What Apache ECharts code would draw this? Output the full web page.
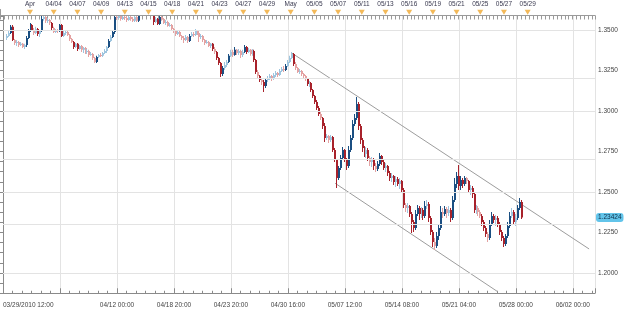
<!DOCTYPE html>
<html><head><meta charset="utf-8">
<script src="https://cdn.jsdelivr.net/npm/echarts@6/dist/echarts.min.js"></script>
<style>html,body{margin:0;padding:0;background:#fff}#c{width:625px;height:311px}</style>
</head><body><div id="c"></div>
<script>
// 4-hour candles, 03/29/2010 -> 05/28/2010 (open of each candle = previous close)
const firstOpen = 1.3451;
const closes = [
1.3463,1.3481,1.3519,1.3438,1.3420,1.3426,1.3407,1.3414,1.3395,1.3407,
1.3451,1.3494,1.3531,1.3500,1.3481,1.3506,1.3475,1.3494,1.3568,1.3580,
1.3556,1.3562,1.3543,1.3512,1.3488,1.3500,1.3494,1.3531,1.3463,1.3481,
1.3488,1.3469,1.3444,1.3426,1.3395,1.3414,1.3383,1.3401,1.3377,1.3389,
1.3364,1.3370,1.3346,1.3352,1.3327,1.3302,1.3333,1.3346,1.3340,1.3358,
1.3370,1.3395,1.3432,1.3457,1.3488,1.3580,1.3574,1.3586,1.3568,1.3580,
1.3574,1.3562,1.3580,1.3568,1.3556,1.3580,1.3556,1.3611,1.3623,1.3636,
1.3630,1.3623,1.3636,1.3617,1.3611,1.3549,1.3568,1.3537,1.3580,1.3568,
1.3543,1.3549,1.3525,1.3531,1.3506,1.3494,1.3475,1.3488,1.3463,1.3451,
1.3438,1.3457,1.3432,1.3463,1.3475,1.3469,1.3494,1.3481,1.3457,1.3463,
1.3438,1.3420,1.3426,1.3401,1.3414,1.3383,1.3364,1.3327,1.3296,1.3228,
1.3265,1.3284,1.3302,1.3340,1.3364,1.3346,1.3377,1.3358,1.3370,1.3346,
1.3364,1.3395,1.3364,1.3377,1.3352,1.3370,1.3315,1.3241,1.3216,1.3191,
1.3179,1.3154,1.3191,1.3204,1.3216,1.3198,1.3222,1.3235,1.3222,1.3247,
1.3259,1.3253,1.3278,1.3302,1.3327,1.3352,1.3290,1.3265,1.3241,1.3247,
1.3228,1.3216,1.3198,1.3167,1.3173,1.3130,1.3093,1.3056,1.3019,1.2981,
1.2957,1.2907,1.2833,1.2846,1.2821,1.2840,1.2759,1.2698,1.2586,1.2648,
1.2710,1.2759,1.2698,1.2660,1.2759,1.2833,1.2920,1.2957,1.3043,1.2907,
1.2821,1.2772,1.2735,1.2759,1.2710,1.2685,1.2698,1.2660,1.2642,1.2673,
1.2722,1.2685,1.2648,1.2660,1.2617,1.2586,1.2599,1.2562,1.2580,1.2549,
1.2568,1.2512,1.2420,1.2401,1.2414,1.2364,1.2315,1.2278,1.2364,1.2401,
1.2364,1.2389,1.2352,1.2414,1.2426,1.2340,1.2253,1.2191,1.2167,1.2228,
1.2278,1.2377,1.2364,1.2395,1.2370,1.2389,1.2340,1.2451,1.2549,1.2599,
1.2537,1.2574,1.2549,1.2586,1.2568,1.2512,1.2525,1.2488,1.2389,1.2401,
1.2377,1.2352,1.2315,1.2278,1.2241,1.2216,1.2302,1.2352,1.2327,1.2340,
1.2302,1.2253,1.2216,1.2179,1.2228,1.2290,1.2352,1.2377,1.2315,1.2340,
1.2401,1.2438,1.23424];
const highs = [
1.3475,1.3494,1.3531,1.3531,1.3444,1.3438,1.3432,1.3426,1.3420,1.3414,
1.3463,1.3506,1.3543,1.3537,1.3512,1.3519,1.3512,1.3500,1.3593,1.3593,
1.3586,1.3574,1.3568,1.3549,1.3519,1.3506,1.3506,1.3537,1.3537,1.3494,
1.3500,1.3494,1.3475,1.3451,1.3432,1.3420,1.3420,1.3407,1.3407,1.3395,
1.3395,1.3383,1.3377,1.3364,1.3358,1.3333,1.3340,1.3352,1.3358,1.3364,
1.3383,1.3401,1.3444,1.3469,1.3500,1.3599,1.3593,1.3599,1.3593,1.3593,
1.3593,1.3586,1.3593,1.3586,1.3580,1.3593,1.3586,1.3623,1.3642,1.3648,
1.3648,1.3642,1.3648,1.3642,1.3630,1.3617,1.3580,1.3574,1.3593,1.3593,
1.3574,1.3562,1.3556,1.3543,1.3537,1.3512,1.3500,1.3494,1.3494,1.3469,
1.3463,1.3469,1.3463,1.3475,1.3488,1.3488,1.3506,1.3500,1.3488,1.3475,
1.3469,1.3444,1.3438,1.3432,1.3420,1.3420,1.3395,1.3370,1.3333,1.3302,
1.3278,1.3302,1.3315,1.3352,1.3377,1.3377,1.3395,1.3383,1.3383,1.3377,
1.3377,1.3407,1.3401,1.3389,1.3383,1.3383,1.3377,1.3321,1.3253,1.3222,
1.3204,1.3191,1.3198,1.3216,1.3228,1.3222,1.3235,1.3247,1.3241,1.3259,
1.3272,1.3278,1.3290,1.3315,1.3340,1.3364,1.3358,1.3302,1.3272,1.3259,
1.3253,1.3235,1.3222,1.3204,1.3185,1.3179,1.3136,1.3099,1.3068,1.3031,
1.2994,1.2963,1.2926,1.2858,1.2852,1.2852,1.2846,1.2772,1.2704,1.2660,
1.2728,1.2778,1.2765,1.2710,1.2784,1.2852,1.2944,1.2981,1.3086,1.3056,
1.2920,1.2833,1.2784,1.2778,1.2772,1.2722,1.2716,1.2710,1.2679,1.2691,
1.2741,1.2728,1.2698,1.2679,1.2667,1.2630,1.2617,1.2605,1.2599,1.2593,
1.2586,1.2574,1.2525,1.2432,1.2432,1.2420,1.2377,1.2327,1.2389,1.2420,
1.2414,1.2407,1.2401,1.2444,1.2451,1.2438,1.2352,1.2265,1.2216,1.2253,
1.2296,1.2414,1.2401,1.2414,1.2407,1.2414,1.2401,1.2475,1.2586,1.2623,
1.2667,1.2599,1.2586,1.2599,1.2593,1.2574,1.2543,1.2537,1.2500,1.2420,
1.2414,1.2389,1.2364,1.2327,1.2290,1.2253,1.2327,1.2377,1.2364,1.2358,
1.2352,1.2315,1.2265,1.2228,1.2241,1.2315,1.2377,1.2401,1.2389,1.2364,
1.2420,1.2463,1.2451];
const lows = [
1.3438,1.3457,1.3475,1.3432,1.3407,1.3401,1.3395,1.3401,1.3389,1.3383,
1.3395,1.3444,1.3488,1.3494,1.3469,1.3475,1.3463,1.3457,1.3488,1.3556,
1.3543,1.3543,1.3531,1.3500,1.3481,1.3481,1.3481,1.3488,1.3457,1.3457,
1.3469,1.3463,1.3432,1.3420,1.3383,1.3389,1.3370,1.3377,1.3364,1.3358,
1.3352,1.3352,1.3333,1.3340,1.3315,1.3296,1.3296,1.3327,1.3333,1.3333,
1.3352,1.3358,1.3389,1.3426,1.3451,1.3475,1.3562,1.3568,1.3556,1.3562,
1.3562,1.3549,1.3556,1.3556,1.3549,1.3549,1.3549,1.3549,1.3605,1.3611,
1.3617,1.3611,1.3611,1.3605,1.3599,1.3531,1.3543,1.3531,1.3531,1.3556,
1.3537,1.3531,1.3519,1.3519,1.3500,1.3481,1.3463,1.3469,1.3457,1.3438,
1.3420,1.3432,1.3420,1.3426,1.3457,1.3457,1.3463,1.3469,1.3426,1.3444,
1.3426,1.3407,1.3414,1.3395,1.3389,1.3370,1.3352,1.3315,1.3284,1.3210,
1.3216,1.3253,1.3272,1.3296,1.3333,1.3333,1.3340,1.3346,1.3346,1.3327,
1.3333,1.3358,1.3352,1.3358,1.3340,1.3340,1.3302,1.3228,1.3198,1.3179,
1.3160,1.3117,1.3142,1.3179,1.3191,1.3185,1.3191,1.3210,1.3210,1.3216,
1.3241,1.3241,1.3247,1.3272,1.3296,1.3321,1.3278,1.3253,1.3235,1.3228,
1.3216,1.3204,1.3185,1.3154,1.3148,1.3117,1.3080,1.3043,1.3006,1.2969,
1.2944,1.2889,1.2809,1.2821,1.2802,1.2809,1.2747,1.2685,1.2525,1.2574,
1.2636,1.2698,1.2685,1.2636,1.2648,1.2747,1.2821,1.2907,1.2944,1.2883,
1.2796,1.2747,1.2716,1.2710,1.2691,1.2660,1.2654,1.2636,1.2623,1.2630,
1.2660,1.2667,1.2636,1.2623,1.2599,1.2568,1.2562,1.2543,1.2531,1.2537,
1.2519,1.2500,1.2401,1.2377,1.2370,1.2346,1.2247,1.2253,1.2265,1.2352,
1.2327,1.2340,1.2327,1.2340,1.2395,1.2315,1.2235,1.2160,1.2142,1.2154,
1.2204,1.2265,1.2340,1.2352,1.2340,1.2352,1.2315,1.2327,1.2438,1.2525,
1.2512,1.2512,1.2525,1.2537,1.2549,1.2494,1.2481,1.2463,1.2370,1.2364,
1.2352,1.2340,1.2290,1.2259,1.2222,1.2191,1.2204,1.2290,1.2309,1.2290,
1.2284,1.2235,1.2198,1.2160,1.2167,1.2216,1.2278,1.2340,1.2296,1.2290,
1.2327,1.2389,1.2333];

const bottomTickLabels = ['03/29/2010 12:00','','04/12 00:00','04/18 20:00','04/23 20:00','04/30 16:00',
  '05/07 12:00','05/14 08:00','05/21 04:00','05/28 00:00','06/02 00:00'];
const topTickLabels = ['Apr','04/04','04/07','04/09','04/13','04/15','04/18','04/21','04/23','04/27','04/29',
  'May','05/05','05/07','05/11','05/13','05/16','05/19','05/21','05/25','05/27','05/29'];
const topTickPos = [15.2,27.2,39.2,51.2,63.2,75.2,87.2,99.2,111.2,123.2,135.2,
  147.2,159.2,171.2,183.2,195.2,207.2,219.2,231.2,243.2,255.2,267.2];
const priceLevels = [1.2,1.225,1.25,1.275,1.3,1.325,1.35];
const upperChannel = [[146.66,1.33599],[298.3,1.21482]];
const lowerChannel = [[169.05,1.25537],[251.77,1.18846]];
const lastPrice = 1.23424;
const firstSlot = 2;          // axis slot of the first candle
const slotsPerWeek = 29;      // 4h slots between bottom grid lines

const candles = closes.map((c, i) => [i + firstSlot, i === 0 ? firstOpen : closes[i - 1], c, lows[i], highs[i]]);
const COL = { upDark: '#1b4f82', downDark: '#a8222b', upLight: '#9ec5df', downLight: '#e4a2a2' };

function renderCandle(params, api) {
  const v = api.value(0), o = api.value(1), c = api.value(2), l = api.value(3), h = api.value(4);
  const pO = api.coord([v, o]), pC = api.coord([v, c]), pL = api.coord([v, l]), pH = api.coord([v, h]);
  const cs = params.coordSys;
  const area = { x: cs.x, y: cs.y, width: cs.width, height: cs.height };
  const x0 = Math.round(pO[0] - 1);
  const light = Math.abs(c - o) < 0.0025;
  const color = COL[(c >= o ? 'up' : 'down') + (light ? 'Light' : 'Dark')];
  const top = Math.min(pO[1], pC[1]);
  const bh = Math.max(1, Math.abs(pO[1] - pC[1]));
  const wick = echarts.graphic.clipRectByRect({ x: x0, y: pH[1], width: 1, height: pL[1] - pH[1] }, area);
  const body = echarts.graphic.clipRectByRect({ x: x0, y: top, width: 2, height: bh }, area);
  const children = [];
  if (wick) children.push({ type: 'rect', shape: wick, style: { fill: color } });
  if (body) children.push({ type: 'rect', shape: body, style: { fill: color } });
  return { type: 'group', children };
}

const font = 'Liberation Sans';
const chart = echarts.init(document.getElementById('c'), null, {renderer: 'canvas'});
chart.setOption({
  animation: false,
  backgroundColor: '#ffffff',
  textStyle: { fontFamily: font },
  grid: [
    { left: -2.5, right: 30, top: 16, bottom: 17.75 },
    { left: -2.5, right: 30, top: 9.5, height: 6 }
  ],
  xAxis: [
    { type: 'value', gridIndex: 0, min: 0, max: 301.3, interval: slotsPerWeek,
      axisLine: { lineStyle: { color: '#8a8a8a' } },
      axisTick: { inside: true, length: 5, lineStyle: { color: '#8a8a8a' } },
      minorTick: { show: true, splitNumber: 6, length: 2.5, lineStyle: { color: '#8a8a8a' } },
      splitLine: { show: true, lineStyle: { color: '#e3e3e3' } },
      axisLabel: { fontSize: 6.5, color: '#444', margin: 8, fontFamily: font, alignMinLabel: 'left',
        formatter: v => { const k = Math.round(v / slotsPerWeek);
          return Math.abs(v - k * slotsPerWeek) < 1e-6 ? (bottomTickLabels[k] || '') : ''; } } },
    { type: 'value', gridIndex: 1, position: 'top', min: 0, max: 301.3, interval: 2,
      axisLine: { lineStyle: { color: '#9a9a9a' } },
      axisTick: { inside: true, length: 4, lineStyle: { color: '#9a9a9a' } },
      splitLine: { show: false },
      axisLabel: { customValues: topTickPos, fontSize: 6.5, color: '#3a3a50', margin: 2, fontFamily: font,
        formatter: v => { const k = topTickPos.findIndex(p => Math.abs(p - v) < 0.01);
          return k >= 0 ? topTickLabels[k] : ''; } } }
  ],
  yAxis: [
    { type: 'value', gridIndex: 0, position: 'right', min: 1.1875, max: 1.3586, interval: 0.00625,
      axisLine: { show: true, lineStyle: { color: '#8a8a8a' } },
      axisTick: { show: true, inside: true, length: 3, lineStyle: { color: '#8a8a8a' } },
      splitLine: { show: false },
      axisLabel: { fontSize: 6.5, color: '#444', margin: 3, fontFamily: font,
        formatter: v => { const k = Math.round(v / 0.025);
          return Math.abs(v - k * 0.025) < 1e-7 ? v.toFixed(4) : ''; } },
      axisPointer: { show: true, type: 'line', value: lastPrice, status: 'show', snap: false,
        triggerTooltip: false, lineStyle: { opacity: 0 },
        label: { show: true, formatter: p => Number(p.value).toFixed(5), backgroundColor: '#62c4ea',
          color: '#0e2f4a', fontSize: 6.5, fontFamily: font, padding: [1, 2, 1, 2], margin: 1 } } },
    { type: 'value', gridIndex: 1, position: 'right', min: 0, max: 1,
      axisLine: { show: true, lineStyle: { color: '#9a9a9a' } },
      axisTick: { show: false }, axisLabel: { show: false }, splitLine: { show: false } }
  ],
  series: [
    { type: 'line', data: upperChannel, symbol: 'none', silent: true, z: 1,
      lineStyle: { color: '#9d9d9d', width: 1 },
      markLine: { silent: true, symbol: 'none', label: { show: false },
        lineStyle: { color: '#e3e3e3', type: 'solid', width: 1 },
        data: priceLevels.map(v => ({ yAxis: v })) } },
    { type: 'line', data: lowerChannel, symbol: 'none', silent: true, z: 1,
      lineStyle: { color: '#9d9d9d', width: 1 } },
    { type: 'custom', data: candles, renderItem: renderCandle, silent: true, z: 3,
      encode: { x: 0, y: [1, 2, 3, 4] } },
    { type: 'scatter', xAxisIndex: 1, yAxisIndex: 1, data: topTickPos.map(v => [v, 0.55]),
      symbol: 'triangle', symbolRotate: 180, symbolSize: [6, 5], silent: true,
      itemStyle: { color: '#f0a830' } }
  ]
});
</script></body></html>
